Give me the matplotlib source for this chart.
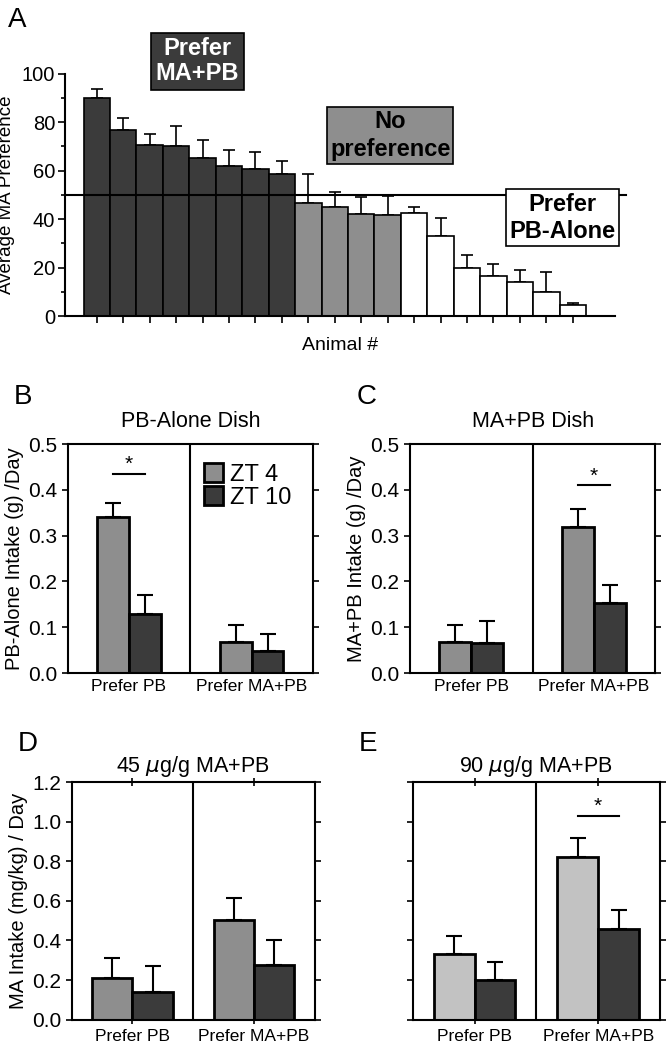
import numpy as np
import matplotlib
matplotlib.use('Agg')
import matplotlib.pyplot as plt

plt.rcParams['font.family'] = ['Liberation Sans', 'DejaVu Sans']

# panel A: per-animal MA preference
pref_ma = [90, 76.5, 70.5, 70, 65, 62, 60.5, 58.5]
pref_ma_err = [3.5, 5, 4.5, 8.5, 7.5, 6.5, 7, 5.5]
no_pref = [46.5, 45, 42, 41.5]
no_pref_err = [12, 6, 7, 8]
pref_pb = [42.5, 33, 20, 16.5, 14, 10, 4.5]
pref_pb_err = [2.5, 7.5, 5, 5, 5, 8, 0.7]

groups = ['Prefer PB', 'Prefer MA+PB']
series = ['ZT 4', 'ZT 10']

# panels B-E: (ZT4, ZT10) for each group
b_zt4 = [0.34, 0.068]
b_zt4_err = [0.032, 0.036]
b_zt10 = [0.128, 0.048]
b_zt10_err = [0.042, 0.038]

c_zt4 = [0.068, 0.318]
c_zt4_err = [0.036, 0.04]
c_zt10 = [0.065, 0.152]
c_zt10_err = [0.048, 0.041]

d_zt4 = [0.21, 0.505]
d_zt4_err = [0.1, 0.11]
d_zt10 = [0.14, 0.275]
d_zt10_err = [0.13, 0.125]

e_zt4 = [0.33, 0.82]
e_zt4_err = [0.09, 0.1]
e_zt10 = [0.20, 0.46]
e_zt10_err = [0.09, 0.095]

dark = '#3b3b3b'
grey = '#8e8e8e'
light = '#c2c2c2'

fig = plt.figure(figsize=(6.7, 10.5), dpi=100)

# ---- A ----
ax = fig.add_axes([0.097, 0.699, 0.821, 0.231])
vals = pref_ma + no_pref + pref_pb
errs = pref_ma_err + no_pref_err + pref_pb_err
cols = [dark] * len(pref_ma) + [grey] * len(no_pref) + ['white'] * len(pref_pb)
x = np.arange(len(vals))
ax.bar(x, vals, width=1.0, color=cols, edgecolor='black', linewidth=1.2, zorder=2)
ax.errorbar(x, vals, yerr=[np.zeros(len(errs)), errs], fmt='none', ecolor='black',
            elinewidth=1.2, capsize=4, capthick=1.2, zorder=1)
ax.axhline(50, color='black', lw=1.5, xmin=0, xmax=1.02, clip_on=False, zorder=3)
ax.set_xlim(-1.2, len(vals) + 0.6)
ax.set_ylim(0, 100)
ax.set_xticks(x)
ax.set_xticklabels([])
ax.set_yticks(np.arange(0, 101, 20))
ax.set_yticks(np.arange(0, 101, 10), minor=True)
ax.tick_params(axis='both', direction='out', width=1.2, length=5, labelsize=14.5, pad=2)
ax.tick_params(axis='y', which='minor', length=3, width=1.2)
for s in ['top', 'right']:
    ax.spines[s].set_visible(False)
for s in ['left', 'bottom']:
    ax.spines[s].set_linewidth(1.5)
ax.set_ylabel('Average MA Preference', fontsize=13.5)
ax.yaxis.set_label_coords(-0.09, 0.5)
ax.set_xlabel('Animal #', fontsize=14, labelpad=8)
ax.text(3.8, 105, 'Prefer\nMA+PB', ha='center', va='center', fontsize=17, fontweight='bold',
        color='white', linespacing=1.1,
        bbox=dict(boxstyle='square,pad=0.2', fc=dark, ec='black', lw=1.2))
ax.text(11.1, 74.5, 'No\npreference', ha='center', va='center', fontsize=17, fontweight='bold',
        color='black', linespacing=1.3,
        bbox=dict(boxstyle='square,pad=0.12', fc=grey, ec='black', lw=1.2))
ax.text(17.6, 40.5, 'Prefer\nPB-Alone', ha='center', va='center', fontsize=17, fontweight='bold',
        color='black', linespacing=1.2,
        bbox=dict(boxstyle='square,pad=0.15', fc='white', ec='black', lw=1.2))
fig.text(0.012, 0.981, 'A', fontsize=20, va='center')


def panel(rect, zt4, zt4_err, zt10, zt10_err, ylim, yticks, ylabel, title, letter,
          c4, w, sig=None, legend=False, ylabels=True, topticks=False, title_y=1.04,
          letter_dy=0.045):
    ax = fig.add_axes(rect)
    xc = np.arange(len(groups))
    ax.bar(xc - w / 2, zt4, w, color=c4, edgecolor='black', linewidth=2, label=series[0], zorder=2)
    ax.bar(xc + w / 2, zt10, w, color=dark, edgecolor='black', linewidth=2, label=series[1], zorder=2)
    ax.errorbar(xc - w / 2, zt4, yerr=[np.zeros(2), zt4_err], fmt='none', ecolor='black',
                elinewidth=1.5, capsize=6, capthick=1.5, zorder=1)
    ax.errorbar(xc + w / 2, zt10, yerr=[np.zeros(2), zt10_err], fmt='none', ecolor='black',
                elinewidth=1.5, capsize=6, capthick=1.5, zorder=1)
    ax.axvline(0.5, color='black', lw=1.5)
    ax.set_xlim(-0.5, 1.5)
    ax.set_ylim(*ylim)
    ax.set_xticks(xc)
    ax.set_xticklabels(groups, fontsize=12.5)
    ax.set_yticks(yticks)
    if ylabels:
        ax.set_yticklabels(['%.1f' % v for v in yticks], fontsize=15)
    else:
        ax.set_yticklabels([])
    ax.tick_params(axis='y', direction='out', length=4, width=1.2, right=True)
    ax.tick_params(axis='x', direction='inout', length=6 if topticks else 0, width=1.2,
                   top=topticks, pad=4)
    for s in ax.spines.values():
        s.set_linewidth(1.5)
    if ylabel:
        ax.set_ylabel(ylabel, fontsize=14.5, labelpad=3)
    ax.set_title(title, fontsize=15.5, y=title_y)
    if sig is not None:
        gi, yline = sig
        ax.plot([gi - w / 2, gi + w / 2], [yline, yline], color='black', lw=1.5)
        ax.text(gi, yline, '*', ha='center', va='bottom', fontsize=15)
    if legend:
        ax.legend(loc='upper right', bbox_to_anchor=(0.97, 0.98), frameon=False, fontsize=17,
                  handlelength=0.8, handleheight=0.9, handletextpad=0.3, labelspacing=0.0,
                  borderaxespad=0.2)
    fig.text(rect[0] - 0.08, rect[1] + rect[3] + letter_dy, letter, fontsize=20, va='center')
    return ax


panel([0.101, 0.359, 0.366, 0.218], b_zt4, b_zt4_err, b_zt10, b_zt10_err,
      (0, 0.5), np.arange(0, 0.51, 0.1), 'PB-Alone Intake (g) /Day', 'PB-Alone Dish', 'B',
      grey, 0.26, sig=(0, 0.435), legend=True)
panel([0.612, 0.359, 0.366, 0.218], c_zt4, c_zt4_err, c_zt10, c_zt10_err,
      (0, 0.5), np.arange(0, 0.51, 0.1), 'MA+PB Intake (g) /Day', 'MA+PB Dish', 'C',
      grey, 0.26, sig=(1, 0.41))
panel([0.107, 0.029, 0.363, 0.226], d_zt4, d_zt4_err, d_zt10, d_zt10_err,
      (0, 1.2), np.arange(0, 1.21, 0.2), 'MA Intake (mg/kg) / Day', r'45 $\mu$g/g MA+PB', 'D',
      grey, 0.33, topticks=True, title_y=1.01, letter_dy=0.036)
panel([0.616, 0.029, 0.369, 0.226], e_zt4, e_zt4_err, e_zt10, e_zt10_err,
      (0, 1.2), np.arange(0, 1.21, 0.2), None, r'90 $\mu$g/g MA+PB', 'E',
      light, 0.33, sig=(1, 1.03), ylabels=False, topticks=True, title_y=1.01, letter_dy=0.036)

fig.savefig('out.png', dpi=100)
